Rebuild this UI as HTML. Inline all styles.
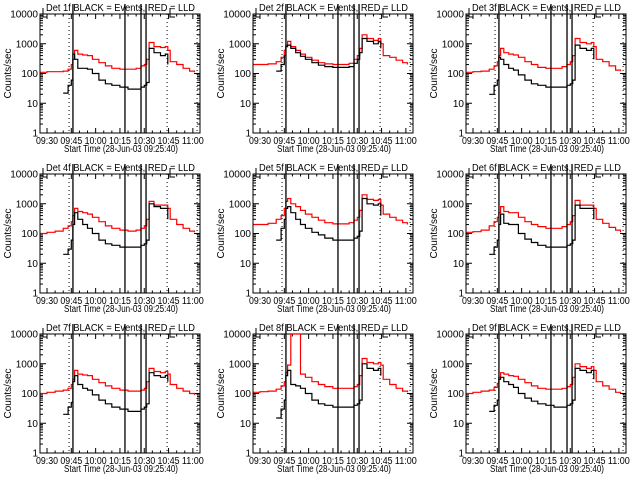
<!DOCTYPE html>
<html><head><meta charset="utf-8"><style>
html,body{margin:0;padding:0;background:#fff;width:640px;height:480px;overflow:hidden}
svg{display:block}
text{font-family:"Liberation Sans",sans-serif;font-size:10px;fill:#000}
</style></head><body>
<svg id="chart" width="640" height="480" viewBox="0 0 640 480" xmlns="http://www.w3.org/2000/svg"></svg>
<script>
// minutes after 09:00
const times=[26,30,35,40,43,45,46,47,49,52,55,58,62,66,70,75,80,85,88,90,91.5,93,96,100,103,104.5,106,110,114,118,121];
const detNames=["1f","2f","3f","4f","5f","6f","7f","8f","9f"];
const red1=[110,115,115,120,140,200,300,600,450,420,400,300,230,180,150,140,140,150,180,200,300,1100,800,750,800,600,250,200,150,120,110];
const red2=[200,200,210,250,350,600,900,1200,800,600,450,350,280,230,210,200,200,220,300,400,700,2000,1500,1300,1500,1000,400,350,280,230,200];
const red3=[110,115,120,140,180,250,400,700,500,450,420,350,250,200,160,150,150,170,200,250,400,1500,1100,1000,1100,800,300,250,180,130,120];
const red4=[100,110,120,150,180,250,400,700,550,500,450,350,250,180,150,130,120,130,150,180,300,1200,900,900,900,700,300,200,150,120,110];
const red5=[200,200,220,300,400,700,1200,1500,1000,800,600,450,350,280,230,210,210,230,280,350,600,2000,1400,1300,1400,900,450,350,280,230,200];
const red6=[110,115,130,180,250,350,500,800,550,500,500,350,250,200,170,150,150,170,200,250,400,1300,900,900,900,700,300,220,160,130,110];
const red7=[100,110,120,130,150,200,300,600,450,420,400,300,230,180,150,130,120,120,130,150,250,700,550,500,550,450,200,150,120,100,90];
const red8=[110,115,120,140,180,250,500,900,10000,10000,450,350,250,200,170,150,150,150,170,200,400,1500,1100,1000,1100,900,300,200,150,120,110];
const red9=[100,110,120,130,160,220,350,500,450,400,380,300,230,180,150,140,140,150,170,200,350,1000,800,700,800,600,250,180,140,110,100];
const n=null;
const blk1=[n,n,n,22,40,60,450,300,150,150,140,100,60,45,40,35,30,30,35,40,50,700,500,400,450,200,n,n,n,n,n];
const blk2=[n,n,n,120,200,400,800,900,700,500,380,300,230,190,170,160,160,170,220,300,500,1500,1200,1000,1200,700,n,n,n,n,n];
const blk3=[n,n,n,20,40,60,350,300,200,150,130,90,60,45,40,35,35,35,40,45,60,900,700,600,700,300,n,n,n,n,n];
const blk4=[n,n,n,20,30,60,200,500,300,200,150,100,60,45,40,35,35,35,40,45,60,1000,800,700,700,300,n,n,n,n,n];
const blk5=[n,n,n,60,150,300,700,800,500,300,200,150,110,90,70,60,60,60,70,80,120,1500,1000,900,1000,400,n,n,n,n,n];
const blk6=[n,n,n,20,35,60,200,450,220,200,200,100,65,50,40,35,35,35,40,45,60,900,700,700,700,300,n,n,n,n,n];
const blk7=[n,n,n,20,35,50,250,400,200,150,130,90,60,45,35,30,25,25,30,35,45,500,400,350,400,250,n,n,n,n,n];
const blk8=[n,n,n,15,30,60,400,600,200,180,150,100,60,45,40,35,35,35,40,45,60,1000,700,600,700,400,n,n,n,n,n];
const blk9=[n,n,n,25,40,60,300,350,250,200,160,100,70,55,45,40,35,35,40,45,60,700,600,500,600,300,n,n,n,n,n];
const reds=[red1,red2,red3,red4,red5,red6,red7,red8,red9];
const blks=[blk1,blk2,blk3,blk4,blk5,blk6,blk7,blk8,blk9];
const xTickMins=[30,45,60,75,90,105,120];
const xTickLabels=["09:30","09:45","10:00","10:15","10:30","10:45","11:00"];
const yTicks=[1,10,100,1000,10000];
const yTickLabels=["1","10","100","1000","10000"];
const solidLines=[46,78.1,88,91.1];
const dottedLines=[43.6,104.1,122.6];

const NS="http://www.w3.org/2000/svg";
const svg=document.getElementById("chart");
function mk(tag,attrs,parent){const e=document.createElementNS(NS,tag);for(const k in attrs)e.setAttribute(k,attrs[k]);(parent||svg).appendChild(e);return e;}
const PL=40,PR=200,PT=14,PB=133,T0=25.67,T1=124.4;

for(let p=0;p<9;p++){
  const ox=(p%3)*213, oy=Math.floor(p/3)*160;
  const g=mk("g",{transform:`translate(${ox},${oy})`});
  
  
  const xs=m=>PL+(m-T0)/(T1-T0)*(PR-PL);
  const ys=v=>PB-Math.log10(v)/4*(PB-PT);
  const clip=mk("clipPath",{id:"c"+p},g);
  mk("rect",{x:PL,y:PT,width:PR-PL,height:PB-PT},clip);
  const t=mk("text",{x:46,y:11,"font-size":"11",textLength:149,lengthAdjust:"spacingAndGlyphs"},g);
  t.textContent="Det "+detNames[p]+" BLACK = Events, RED = LLD";
  
  
  const box=mk("rect",{x:PL,y:PT,width:PR-PL,height:PB-PT,fill:"none",stroke:"#000","stroke-width":1},g);
  
  
  yTicks.forEach((v,i)=>{
    const y=ys(v);
    mk("line",{x1:PL,x2:PL+6,y1:y,y2:y,stroke:"#000"},g);
    mk("line",{x1:PR,x2:PR-6,y1:y,y2:y,stroke:"#000"},g);
    const l=mk("text",{x:PL-2,y:y+3.5,"text-anchor":"end","font-size":"9"},g);
    l.textContent=yTickLabels[i];
    
    
    if(i<yTicks.length-1){for(let k=2;k<10;k++){const yy=ys(v*k);
      mk("line",{x1:PL,x2:PL+3,y1:yy,y2:yy,stroke:"#000"},g);
      mk("line",{x1:PR,x2:PR-3,y1:yy,y2:yy,stroke:"#000"},g);}}
  });
  xTickMins.forEach((m,i)=>{
    const x=xs(m);
    mk("line",{x1:x,x2:x,y1:PB,y2:PB-5,stroke:"#000"},g);
    mk("line",{x1:x,x2:x,y1:PT,y2:PT+5,stroke:"#000"},g);
    const l=mk("text",{x:x-11,y:PB+11,"font-size":"9",textLength:22,lengthAdjust:"spacingAndGlyphs"},g);
    l.textContent=xTickLabels[i];
    
    
  });
  for(let m=35;m<124;m+=5){if((m)%15===0)continue;const x=xs(m);
    mk("line",{x1:x,x2:x,y1:PB,y2:PB-2.5,stroke:"#000"},g);
    mk("line",{x1:x,x2:x,y1:PT,y2:PT+2.5,stroke:"#000"},g);}
  const xl=mk("text",{x:64,y:PB+19,"font-size":"9",textLength:114,lengthAdjust:"spacingAndGlyphs"},g);
  xl.textContent="Start Time (28-Jun-03 09:25:40)";
  
  
  const yl=mk("text",{x:0,y:0,"text-anchor":"middle","font-size":"7",transform:`translate(11,${(PT+PB)/2}) rotate(-90)`},g);
  yl.textContent="Counts/sec";
  
  
  dottedLines.forEach(m=>{const x=xs(m);
    const d=mk("line",{x1:x,x2:x,y1:PT,y2:PB,stroke:"#000","stroke-dasharray":"1,3"},g);
    
    });
  function path(arr,color,name){
    let d="",prev=null;
    for(let i=0;i<times.length;i++){const v=arr[i];
      if(v==null){prev=null;continue;}
      const x=xs(times[i]),y=ys(v);
      if(prev==null)d+=`M${x.toFixed(1)},${y.toFixed(1)}`;else d+=`H${x.toFixed(1)}V${y.toFixed(1)}`;
      prev=v;}
    const e=mk("path",{d:d,fill:"none",stroke:color,"stroke-width":1.2,"clip-path":`url(#c${p})`},g);
    
    
  }
  path(reds[p],"#ff0000","lld-series-red");
  path(blks[p],"#000000","events-series-black");
  solidLines.forEach(m=>{const x=xs(m);
    const s=mk("line",{x1:x,x2:x,y1:4,y2:PB,stroke:"#000","stroke-width":1.3},g);
    
    });
  [[43,47],[170,175]].forEach(b=>{
    const e=mk("path",{d:`M${b[1]},${PT+3}H${b[0]}V${PT-6}`,fill:"none",stroke:"#000"},g);
    
    });
}
</script>
</body></html>
